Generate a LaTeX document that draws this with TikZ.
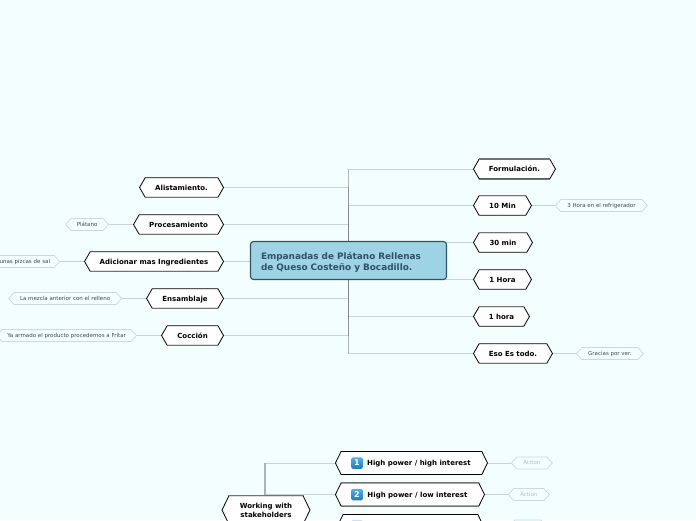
\documentclass[tikz,border=0pt]{standalone}
\usepackage{fontspec}
\setmainfont{DejaVu Sans}
\usepackage{xcolor}
\usetikzlibrary{shapes.symbols,positioning,backgrounds}
\definecolor{mapback}{HTML}{F2FFFE}
\definecolor{rootfill}{HTML}{9DD3E2}
\definecolor{rootline}{HTML}{2E5266}
\definecolor{subline}{HTML}{CDD9D9}
\definecolor{subtext}{HTML}{404848}
\definecolor{iconblue}{HTML}{1C93E6}
\tikzset{
  rootnode/.style={rectangle, rounded corners=3pt, draw=rootline, line width=1.1pt, fill=rootfill, text=rootline, align=left, font=\fontsize{8.9}{11}\selectfont\bfseries, minimum width=196pt, minimum height=38pt, text width=175pt, text height=11.5pt},
  topic/.style={signal, signal to=east and west, signal pointer angle=120, draw=black, line width=.8pt, fill=white, align=center, font=\fontsize{7}{8.5}\selectfont\bfseries, minimum height=19.5pt, inner sep=1pt, text height=6pt, text depth=1pt},
  bigtopic/.style={topic, signal pointer angle=128, minimum height=23pt},
  subtopic/.style={signal, signal to=east and west, signal pointer angle=95, draw=subline, line width=.7pt, fill=mapback, text=subtext, font=\fontsize{5.5}{6}\selectfont, minimum height=12pt, inner sep=1pt, text height=4.6pt, text depth=.8pt},
  actionnode/.style={subtopic, text=subline!70!gray},
  numicon/.style={rectangle, rounded corners=1.5pt, top color=iconblue!75!white, bottom color=iconblue!85!black, text=white, font=\fontsize{8}{8}\selectfont\bfseries, minimum size=11.5pt, inner sep=0pt},
  branch/.style={draw=gray, line width=1pt, opacity=.35},
  spine/.style={draw=gray, line width=#1, opacity=.6},
  edgeline/.style={draw=gray!90!black, line width=1.3pt},
}
\begin{document}
\begin{tikzpicture}[x=1pt, y=-1pt, node distance=24pt]
  \useasboundingbox (0,0) rectangle (696,520);
  \clip (0,0) rectangle (696,520);
  \node[rootnode] (root) at (348.5,260.5) {Empanadas de Plátano Rellenas\\de Queso Costeño y Bocadillo.};
  % left side
  \node[topic,anchor=east,minimum width=84pt] (alist) at (224,187.5) {Alistamiento.};
  \node[topic,anchor=east,minimum width=90pt] (proc) at (224,224.5) {Procesamiento};
  \node[topic,anchor=east,minimum width=139pt] (adic) at (224,261.5) {Adicionar mas Ingredientes};
  \node[topic,anchor=east,minimum width=77pt] (ensam) at (224,298.5) {Ensamblaje};
  \node[topic,anchor=east,minimum width=62pt] (coccion) at (224,335.5) {Cocción};
  \node[subtopic,left=of proc,minimum width=43pt] (platano) {Plátano};
  \node[subtopic,left=of adic,minimum width=75pt,text width=64pt,align=right] (pizcas) {unas pizcas de sal\hspace*{3pt}};
  \node[subtopic,left=of ensam,minimum width=113pt] (mezcla) {La mezcla anterior con el relleno};
  \node[subtopic,left=of coccion,minimum width=140pt] (armado) {Ya armado el producto procedemos a Fritar};
  % right side
  \node[topic,anchor=west,minimum width=82pt] (formul) at (473,169) {Formulación.};
  \node[topic,anchor=west,minimum width=58pt] (min10) at (473,205.5) {10 Min};
  \node[topic,anchor=west,minimum width=59pt] (min30) at (473,242.5) {30 min};
  \node[topic,anchor=west,minimum width=58pt] (hora1) at (473,279.5) {1 Hora};
  \node[topic,anchor=west,minimum width=56pt] (hora2) at (473,316.5) {1 hora};
  \node[topic,anchor=west,minimum width=79pt] (todo) at (473,353.5) {Eso Es todo.};
  \node[subtopic,right=23pt of min10,minimum width=92pt] (refri) {3 Hora en el refrigerador};
  \node[subtopic,right=23pt of todo,minimum width=67pt] (gracias) {Gracias por ver.};
  % stakeholders
  \node[topic,signal pointer angle=128,minimum width=88pt,minimum height=28.5pt,text height=15.5pt] (stake) at (266,510) {Working with\\stakeholders};
  \node[bigtopic,anchor=west,minimum width=152pt] (high1) at (335,463) {\hspace{15pt}High power / high interest};
  \node[bigtopic,anchor=west,minimum width=149pt] (high2) at (335,494.5) {\hspace{15pt}High power / low interest};
  \node[bigtopic,anchor=west,minimum width=146pt] (high3) at (337,526) {};
  \node[numicon] (icon1) at (357,463) {1};
  \node[numicon] (icon2) at (357,494.5) {2};
  \node[numicon,top color=iconblue!25!white,bottom color=iconblue!25!white] (icon3) at (357,525.5) {};
  \node[actionnode,right=23pt of high1,minimum width=41pt] (act1) {Action};
  \node[actionnode,right=23pt of high2,minimum width=41pt] (act2) {Action};
  \node[actionnode,right=25pt of high3,minimum width=37pt] (act3) {};
  % darker edges
  \foreach \n in {alist,proc,adic,ensam,coccion,formul,todo,high2}
    \draw[edgeline] ([xshift=6pt]\n.west |- \n.south) -- ([xshift=-6pt]\n.east |- \n.south);
  \foreach \n in {formul,min10,min30,hora2,high2,stake}
    \draw[edgeline] ([xshift=6pt]\n.west |- \n.north) -- ([xshift=-6pt]\n.east |- \n.north);
  \begin{pgfonlayer}{background}
    \fill[mapback] (0,0) rectangle (696,520);
    % lines out of the root
    \draw[spine=.7pt] (root.center) -- (root.center |- formul.west);
    \draw[spine=.8pt] (root.center) -- (root.center |- alist.east);
    \draw[spine=1.1pt] (root.center) -- (root.center |- min10.west);
    \draw[spine=1.7pt] (root.center) -- (root.center |- proc.east);
    \draw[spine=.7pt] (root.center) -- (root.center |- todo.west);
    \draw[spine=.8pt] (root.center) -- (root.center |- coccion.east);
    \draw[spine=1.1pt] (root.center) -- (root.center |- hora2.west);
    \draw[spine=1.7pt] (root.center) -- (root.center |- ensam.east);
    \draw[branch] (root.center |- alist.east) -- (alist.east);
    \draw[branch] (root.center |- proc.east) -- (proc.east);
    \draw[branch] (root.center |- adic.east) -- (adic.east);
    \draw[branch] (root.center |- ensam.east) -- (ensam.east);
    \draw[branch] (root.center |- coccion.east) -- (coccion.east);
    \draw[branch] (root.center |- formul.west) -- (formul.west);
    \draw[branch] (root.center |- min10.west) -- (min10.west);
    \draw[branch] (root.center |- min30.west) -- (min30.west);
    \draw[branch] (root.center |- hora1.west) -- (hora1.west);
    \draw[branch] (root.center |- hora2.west) -- (hora2.west);
    \draw[branch] (root.center |- todo.west) -- (todo.west);
    \draw[branch] (proc.west) -- (platano.east);
    \draw[branch] (adic.west) -- (pizcas.east);
    \draw[branch] (ensam.west) -- (mezcla.east);
    \draw[branch] (coccion.west) -- (armado.east);
    \draw[branch] (min10.east) -- (refri.west);
    \draw[branch] (todo.east) -- (gracias.west);
    \draw[spine=1.6pt] (stake.north -| 265,0) -- (265,463);
    \draw[branch] (265,463) -- (high1.west);
    \draw[branch] (stake.center) -- (stake.center |- high2.west) -- (high2.west);
    \draw[branch] (high1.east) -- (act1.west);
    \draw[branch] (high2.east) -- (act2.west);
  \end{pgfonlayer}
\end{tikzpicture}
\end{document}
